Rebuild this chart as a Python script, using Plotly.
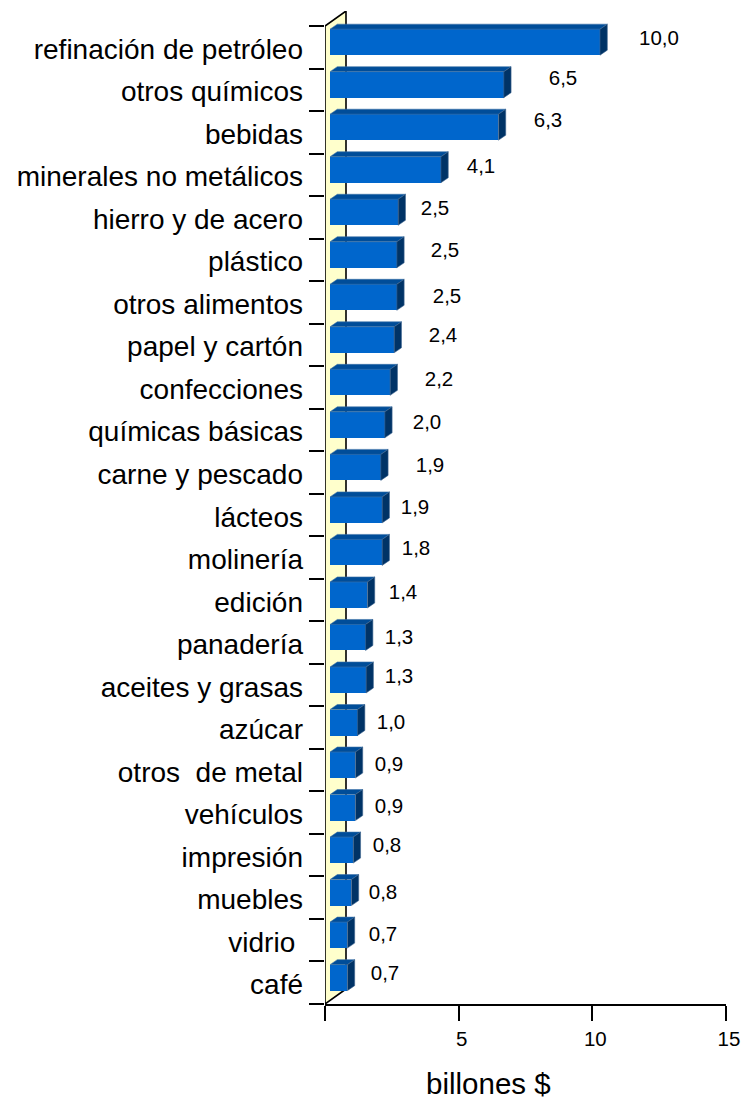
import plotly.graph_objects as go

categories = ["refinación de petróleo", "otros químicos", "bebidas", "minerales no metálicos",
              "hierro y de acero", "plástico", "otros alimentos", "papel y cartón", "confecciones",
              "químicas básicas", "carne y pescado", "lácteos", "molinería", "edición", "panadería",
              "aceites y grasas", "azúcar", "otros&nbsp;&nbsp;de metal", "vehículos", "impresión", "muebles",
              "vidrio&nbsp;", "café"]
values = [10.1, 6.5, 6.3, 4.15, 2.55, 2.5, 2.5, 2.4, 2.25, 2.05, 1.9, 1.95, 1.95, 1.4, 1.33, 1.35,
          1.03, 0.95, 0.95, 0.87, 0.8, 0.65, 0.65]
value_labels = ["10,0", "6,5", "6,3", "4,1", "2,5", "2,5", "2,5", "2,4", "2,2", "2,0", "1,9", "1,9",
                "1,8", "1,4", "1,3", "1,3", "1,0", "0,9", "0,9", "0,8", "0,8", "0,7", "0,7"]
x_ticks = [0, 5, 10, 15]
x_tick_text = ["", "5", "10", "15"]

# layout constants, in pixels
W, H = 743, 1101
L, R, T, B = 325, 17, 11, 97
AX_Y0 = 1004
CAT_TOP = 26
n = len(categories)
px_x = (W - L - R) / 15
px_y = (AX_Y0 - CAT_TOP) / n
top_val = n + 15 / px_y

# label placement (pixels)
label_cx = [659, 563, 548, 481, 435, 445, 447, 443, 439, 427, 430, 415, 416, 403, 399, 399, 391, 389,
            389, 387, 383, 383, 385]
label_cy = [40, 80, 122, 168, 210, 252, 298, 337, 381, 424, 467, 509, 550, 594, 639, 678, 724, 766,
            808, 847, 894, 936, 975]

bar_start = 5 / px_x
bar_h = 26 / px_y
dx = 7.3 / px_x
dy = 5 / px_y
wall_dx = 21 / px_x
wall_dy = 15 / px_y
bar_center = [n - 0.5 - i + 0.12 for i in range(n)]

FONT = "Liberation Sans, Arial, sans-serif"
fig = go.Figure()

# top and side faces of every bar
top_x, top_y, side_x, side_y = [], [], [], []
for v, c in zip(values, bar_center):
    x0, x1 = bar_start, bar_start + v
    y0, y1 = c - bar_h / 2, c + bar_h / 2
    top_x += [x0, x0 + dx, x1 + dx, x1, x0, None]
    top_y += [y1, y1 + dy, y1 + dy, y1, y1, None]
    side_x += [x1, x1 + dx, x1 + dx, x1, x1, None]
    side_y += [y0, y0 + dy, y1 + dy, y1, y0, None]
fig.add_trace(go.Scatter(x=top_x, y=top_y, mode="lines", fill="toself", fillcolor="#004D99",
                         line=dict(color="#3F74A8", width=0.6), cliponaxis=False,
                         hoverinfo="skip", showlegend=False))
fig.add_trace(go.Scatter(x=side_x, y=side_y, mode="lines", fill="toself", fillcolor="#003366",
                         line=dict(color="#3F6690", width=0.6), cliponaxis=False,
                         hoverinfo="skip", showlegend=False))
# front faces
fig.add_trace(go.Bar(x=values, y=bar_center, base=bar_start, orientation="h", width=bar_h,
                     marker=dict(color="#0066CC", line=dict(width=0)), showlegend=False))

# value labels
fig.add_trace(go.Scatter(x=[(cx - L) / px_x for cx in label_cx],
                         y=[(AX_Y0 - cy) / px_y for cy in label_cy],
                         mode="text", text=value_labels, textposition="middle center",
                         textfont=dict(family=FONT, size=20.5, color="black"),
                         cliponaxis=False, hoverinfo="skip", showlegend=False))

wall_path = (f"M 0 {n} L {wall_dx} {n + wall_dy} L {wall_dx} {wall_dy} L 0 0 Z")

fig.update_layout(
    width=W, height=H, autosize=False,
    margin=dict(l=L, r=R, t=T, b=B, autoexpand=False),
    paper_bgcolor="white", plot_bgcolor="white",
    bargap=0, showlegend=False,
    font=dict(family=FONT, color="black"),
    shapes=[dict(type="path", path=wall_path, xref="x", yref="y", layer="below",
                 fillcolor="#FFFFCC", line=dict(color="black", width=1.6))],
    xaxis=dict(range=[0, 15], tickmode="array", tickvals=x_ticks, ticktext=x_tick_text,
               showgrid=False, zeroline=False, showline=True, linecolor="black", linewidth=1.6,
               ticks="outside", ticklen=15, tickwidth=1.6, tickcolor="black",
               tickfont=dict(family=FONT, size=20.5, color="black"), ticklabelstandoff=1,
               ticklabelshift=3),
    yaxis=dict(range=[0, top_val], tickmode="array",
               tickvals=[n - 0.5 - i - 0.04 for i in range(n)], ticktext=categories,
               showgrid=False, zeroline=False, showline=False, ticks="",
               tickfont=dict(family=FONT, size=28, color="black"), ticklabelstandoff=21,
               minor=dict(tickmode="array", tickvals=list(range(n + 1)), ticks="outside", ticklen=15,
                          tickwidth=1.6, tickcolor="black", showgrid=False)),
    annotations=[dict(text="billones $", xref="paper", yref="paper",
                      x=(488 - L) / (W - L - R), y=-(1083 - AX_Y0) / (H - T - B),
                      xanchor="center", yanchor="middle", showarrow=False,
                      font=dict(family=FONT, size=29.5, color="black"))],
)
fig.write_html("out.html", config={"displayModeBar": False},
               post_script="document.body.style.margin='0';document.body.style.overflow='hidden';")
